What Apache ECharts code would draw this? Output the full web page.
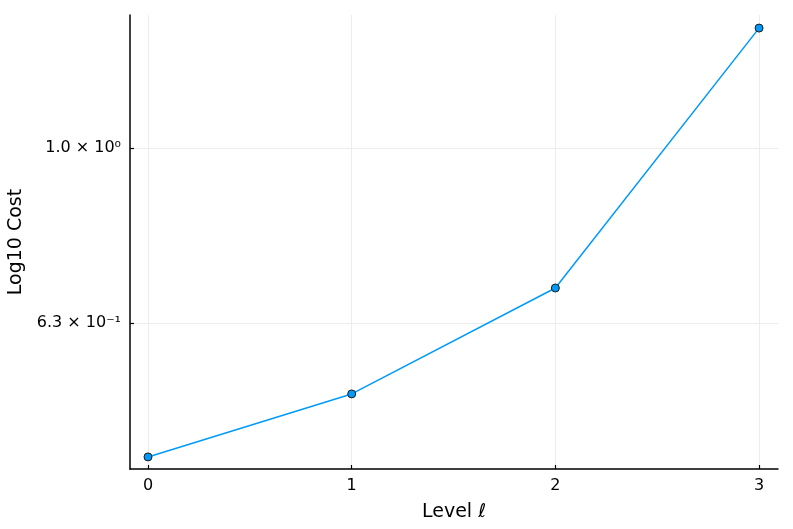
<!DOCTYPE html>
<html><head><meta charset="utf-8">
<script src="https://cdn.jsdelivr.net/npm/echarts@6/dist/echarts.min.js"></script>
<style>html,body{margin:0;padding:0;background:#fff}#c{width:793px;height:529px}</style>
</head><body><div id="c"></div>
<script>
const levels = [0, 1, 2, 3];
const costs = [0.4435, 0.5235, 0.6918, 1.371];
const yTickValues = [0.630957, 1.0];
const yTickLabels = ['6.3 × 10⁻¹', '1.0 × 10⁰'];
const xTickValues = [0, 1, 2, 3];

const chart = echarts.init(document.getElementById('c'));
const font = "'DejaVu Sans', sans-serif";
chart.setOption({
  animation: false,
  textStyle: {fontFamily: font},
  grid: {left: 130, right: 15, top: 15, bottom: 60, containLabel: false, outerBoundsMode: 'none'},
  xAxis: {
    type: 'value', min: -0.0884, max: 3.093,
    name: 'Level ℓ', nameLocation: 'middle', nameGap: 34,
    nameTextStyle: {fontFamily: font, fontSize: 19, color: '#000', verticalAlign: 'top'},
    axisLine: {show: true, onZero: false, lineStyle: {color: '#000', width: 1.5}},
    axisTick: {show: true, inside: true, length: 4, customValues: xTickValues, lineStyle: {color: '#000', width: 1.2}},
    axisLabel: {customValues: xTickValues, fontFamily: font, fontSize: 16, color: '#000', margin: 9},
    splitLine: {show: true, lineStyle: {color: '#ececec', width: 1}}
  },
  yAxis: {
    type: 'log', logBase: 10, min: Math.pow(10, -0.3669), max: Math.pow(10, 0.152),
    name: 'Log10 Cost', nameLocation: 'middle', nameGap: 104,
    nameTextStyle: {fontFamily: font, fontSize: 19, color: '#000'},
    axisLine: {show: true, onZero: false, lineStyle: {color: '#000', width: 1.5}},
    axisTick: {show: true, inside: true, length: 4, customValues: yTickValues, lineStyle: {color: '#000', width: 1.2}},
    axisLabel: {customValues: yTickValues, fontFamily: font, fontSize: 16, color: '#000', margin: 9,
      formatter: function (v) {
        let best = 0, bd = Infinity;
        yTickValues.forEach((t, i) => { const d = Math.abs(t - v); if (d < bd) { bd = d; best = i; } });
        return yTickLabels[best];
      }},
    splitLine: {show: true, lineStyle: {color: '#ececec', width: 1}}
  },
  series: [{
    type: 'line',
    data: levels.map((l, i) => [l, costs[i]]),
    symbol: 'circle', symbolSize: 8,
    lineStyle: {color: '#009AFA', width: 1.5},
    itemStyle: {color: '#009AFA', borderColor: '#1a1a1a', borderWidth: 1}
  }]
});
</script></body></html>
